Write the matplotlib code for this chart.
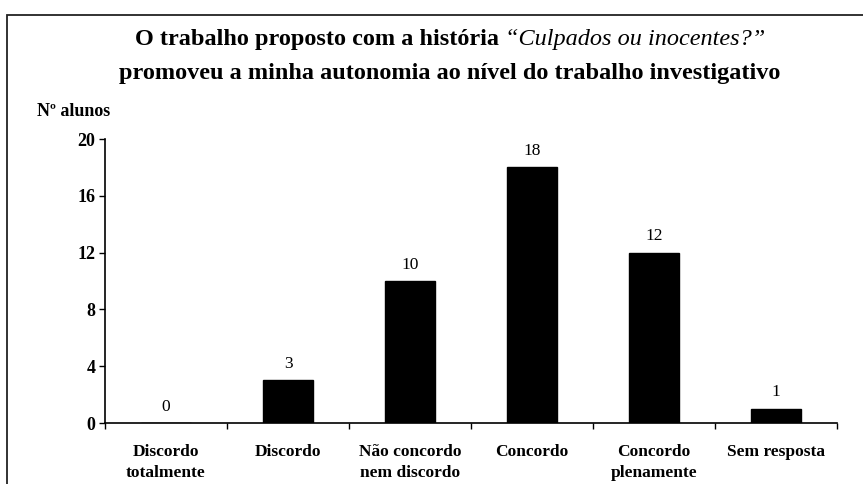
import matplotlib
matplotlib.use("Agg")
import matplotlib.pyplot as plt
from matplotlib.patches import Rectangle
import numpy as np

categories = ["Discordo\ntotalmente", "Discordo", "Não concordo\nnem discordo",
              "Concordo", "Concordo\nplenamente", "Sem resposta"]
values = [0, 3, 10, 18, 12, 1]
yticks = [0, 4, 8, 12, 16, 20]
title_a = "O trabalho proposto com a história "
title_b = "“Culpados ou inocentes?”"
title_line2 = "promoveu a minha autonomia ao nível do trabalho investigativo"
ylabel = "Nº alunos"

W, H = 863, 484
fig = plt.figure(figsize=(W / 100, H / 100), dpi=100)
serif = "Liberation Serif"

# outer frame (extends beyond the image right and bottom)
fig.patches.append(Rectangle((7 / W, -0.1), 1.2, (H - 15) / H + 0.1,
                             transform=fig.transFigure, fill=False,
                             edgecolor="#222222", linewidth=1.3))

ax = fig.add_axes([105 / W, (H - 423) / H, (837 - 105) / W, (423 - 139) / H])
x = np.arange(len(categories))
bars = ax.bar(x, values, width=0.41, color="black", edgecolor="black")
ax.set_xlim(-0.5, len(categories) - 0.5)
ax.set_ylim(0, 20)
ax.set_yticks(yticks)
ax.set_yticklabels([str(t) for t in yticks], fontfamily=serif,
                   fontweight="bold", fontsize=13)
ax.set_xticks(np.arange(-0.5, len(categories), 1.0))
ax.set_xticklabels([])
ax.set_xticks(x, minor=True)
ax.set_xticklabels(categories, minor=True, fontfamily=serif,
                   fontweight="bold", fontsize=12.5, linespacing=1.4)
ax.tick_params(axis="x", which="minor", length=0, pad=15)
ax.tick_params(axis="x", which="major", length=4, direction="out", width=1)
ax.tick_params(axis="y", length=4, direction="out", width=1, pad=3)
for s in ["top", "right"]:
    ax.spines[s].set_visible(False)
for s in ["left", "bottom"]:
    ax.spines[s].set_linewidth(1.2)

for xi, v in zip(x, values):
    ax.annotate(str(v), (xi, v), xytext=(0, 6), textcoords="offset points",
                ha="center", va="bottom", fontfamily=serif, fontsize=12.5)

fig.text(37 / W, 1 - 111 / H, ylabel, fontfamily=serif, fontweight="bold",
         fontsize=13, ha="left", va="center")

# title line 1 with italic part
fig.canvas.draw()
r = fig.canvas.get_renderer()
y1 = 1 - 40 / H
ta = fig.text(0, y1, title_a, fontfamily=serif, fontweight="bold",
              fontsize=17.5, ha="left", va="center")
tb = fig.text(0, y1, title_b, fontfamily=serif, fontstyle="italic",
              fontsize=17.5, ha="left", va="center")
wa = ta.get_window_extent(r).width
wb = tb.get_window_extent(r).width
x0 = 450 - (wa + wb) / 2
ta.set_x(x0 / W)
tb.set_x((x0 + wa) / W)
fig.text(450 / W, 1 - 73 / H, title_line2, fontfamily=serif, fontweight="bold",
         fontsize=17.5, ha="center", va="center")

fig.savefig("out.png", dpi=100)
